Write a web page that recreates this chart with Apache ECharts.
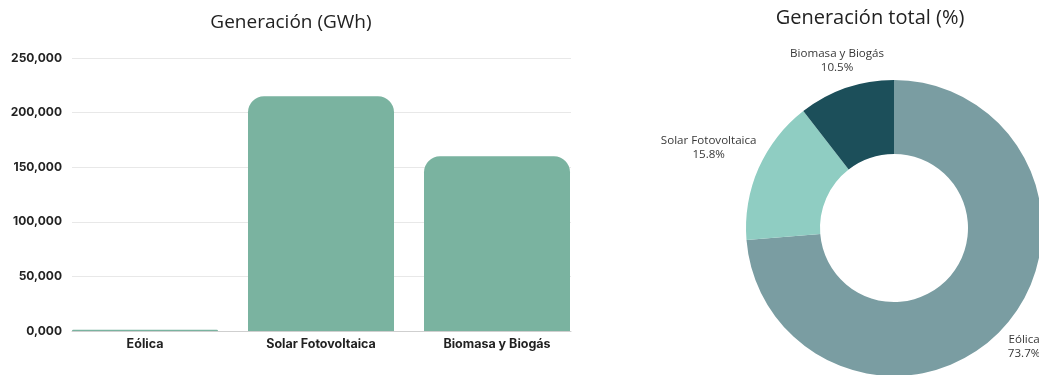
<!DOCTYPE html>
<html><head><meta charset="utf-8">
<script src="https://cdn.jsdelivr.net/npm/echarts@6/dist/echarts.min.js"></script>
<style>html,body{margin:0;padding:0;background:#fff}#c{width:1039px;height:375px}</style>
</head><body><div id="c"></div>
<script>
const categories = ['Eólica', 'Solar Fotovoltaica', 'Biomasa y Biogás'];
const generationGWh = [1200, 215000, 160000];
const sharePercent = [73.7, 15.8, 10.5];
const yTickLabels = ['0,000', '50,000', '100,000', '150,000', '200,000', '250,000'];
const pieColors = ['#7a9da2', '#8fcdc2', '#1c4f5a'];
const pieLabelAlign = ['left', 'right', 'center'];
const pieLabelShift = [[0, 18], [3, -21], [-4, -27]];

const chart = echarts.init(document.getElementById('c'));
const labelFont = 'Inter, Roboto, sans-serif';
chart.setOption({
  animation: false,
  title: [
    {text: 'Generación (GWh)', left: 286, top: 8, textAlign: 'center',
     textStyle: {fontFamily: 'Open Sans', fontWeight: 'normal', fontSize: 19, color: '#222'}},
    {text: 'Generación total (%)', left: 865, top: 3, textAlign: 'center',
     textStyle: {fontFamily: 'Open Sans', fontWeight: 'normal', fontSize: 20, color: '#222'}}
  ],
  grid: [
    {left: 57, width: 528, top: 58, height: 273},
    {left: 72, width: 499, top: 58, height: 273}
  ],
  xAxis: [
    {type: 'category', gridIndex: 0, data: categories,
     axisLine: {show: false}, axisTick: {show: false},
     axisLabel: {margin: 7, fontFamily: labelFont, fontWeight: 'bold', fontSize: 12.5, color: '#222'}},
    {type: 'category', gridIndex: 1, data: categories,
     axisLine: {lineStyle: {color: '#cfcfcf', width: 1}}, axisTick: {show: false},
     axisLabel: {show: false}}
  ],
  yAxis: [
    {type: 'value', gridIndex: 0, min: 0, max: 250000, interval: 50000, show: false},
    {type: 'value', gridIndex: 1, min: 0, max: 250000, interval: 50000,
     axisLine: {show: false}, axisTick: {show: false},
     splitLine: {lineStyle: {color: '#e8e8e8', width: 1}},
     axisLabel: {margin: 10, fontFamily: labelFont, fontWeight: 'bold', fontSize: 12, color: '#222',
       formatter: (v, i) => yTickLabels[i]}}
  ],
  series: [
    {type: 'bar', xAxisIndex: 0, yAxisIndex: 0, data: generationGWh, barWidth: 146,
     itemStyle: {color: '#7ab3a0', borderRadius: [16, 16, 0, 0]}, z: 3},
    {type: 'pie', center: [894, 228], radius: [74, 148], startAngle: 90, clockwise: true,
     avoidLabelOverlap: false,
     data: categories.map((n, i) => ({name: n, value: sharePercent[i], itemStyle: {color: pieColors[i]}})),
     label: {show: true, position: 'outside', formatter: '{t|{b}}\n{t|{c}%}',
       rich: {t: {align: 'center', fontFamily: 'Open Sans', fontSize: 11.6, color: '#383838', lineHeight: 14}}},
     labelLine: {show: false, length: 0, length2: 0},
     labelLayout: (p) => ({align: pieLabelAlign[p.dataIndex], dx: pieLabelShift[p.dataIndex][0], dy: pieLabelShift[p.dataIndex][1]})}
  ]
});
</script></body></html>
